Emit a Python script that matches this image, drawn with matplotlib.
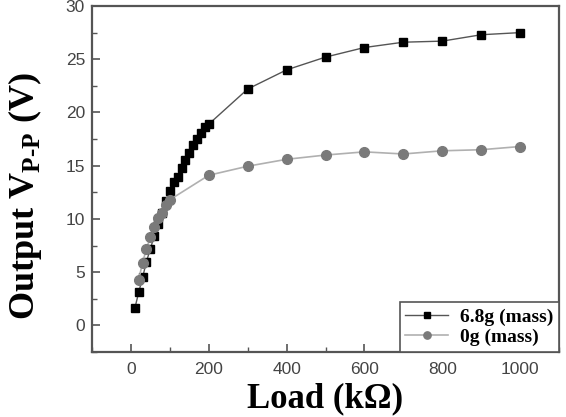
import matplotlib
matplotlib.use("Agg")
import matplotlib.pyplot as plt
from matplotlib.ticker import MultipleLocator

# 6.8g mass series
load_mass = [10, 20, 30, 40, 50, 60, 70, 80, 90, 100,
             110, 120, 130, 140, 150, 160, 170, 180, 190, 200,
             300, 400, 500, 600, 700, 800, 900, 1000]
vpp_mass = [1.6, 3.1, 4.5, 6.0, 7.2, 8.4, 9.5, 10.6, 11.7, 12.6,
            13.5, 13.9, 14.8, 15.5, 16.2, 16.9, 17.5, 18.1, 18.6, 18.9,
            22.2, 24.0, 25.2, 26.1, 26.6, 26.7, 27.3, 27.5]

# 0g mass series
load_nomass = [20, 30, 40, 50, 60, 70, 80, 90, 100,
               200, 300, 400, 500, 600, 700, 800, 900, 1000]
vpp_nomass = [4.3, 5.9, 7.2, 8.3, 9.2, 10.1, 10.6, 11.3, 11.8,
              14.1, 14.95, 15.6, 16.0, 16.3, 16.1, 16.4, 16.5, 16.8]

series_labels = ["6.8g (mass)", "0g (mass)"]

plt.rcParams['mathtext.fontset'] = 'custom'
plt.rcParams['mathtext.rm'] = 'Liberation Serif:bold'
plt.rcParams['mathtext.bf'] = 'Liberation Serif:bold'

fig = plt.figure(figsize=(5.66, 4.17), dpi=100)
ax = fig.add_axes([92 / 566, 1 - 352 / 417, (559 - 92) / 566, (352 - 6) / 417])

ax.plot(load_mass, vpp_mass, color='#555555', lw=1.0, marker='s', ms=6,
        mfc='black', mec='black', label=series_labels[0])
ax.plot(load_nomass, vpp_nomass, color='#b0b0b0', lw=1.2, marker='o', ms=7,
        mfc='#7a7a7a', mec='#7a7a7a', label=series_labels[1])

ax.set_xlim(-100, 1100)
ax.set_ylim(-2.5, 30)
ax.xaxis.set_major_locator(MultipleLocator(200))
ax.xaxis.set_minor_locator(MultipleLocator(100))
ax.yaxis.set_major_locator(MultipleLocator(5))
ax.yaxis.set_minor_locator(MultipleLocator(2.5))

ax.tick_params(which='both', direction='in', top=False, right=False, color='#555555')
ax.tick_params(which='major', length=6, width=1.2)
ax.tick_params(which='minor', length=3.5, width=1.0)
ax.tick_params(axis='x', pad=7)
ax.tick_params(axis='y', pad=5)
for lbl in ax.get_xticklabels() + ax.get_yticklabels():
    lbl.set_fontfamily('Liberation Sans')
    lbl.set_fontsize(12.5)
    lbl.set_color('#444444')

for sp in ax.spines.values():
    sp.set_color('#555555')
    sp.set_linewidth(1.6)

xl = ax.set_xlabel("Load (k\u03a9)", fontsize=25, fontweight='bold',
                   family='Liberation Serif')
xl.set_va('bottom')
ax.xaxis.set_label_coords(0.5, (352 - 415) / 346)
ax.set_ylabel(r"Output V$_{\mathbf{P\text{-}P}}$ (V)", fontsize=26,
              fontweight='bold', family='Liberation Serif')
ax.yaxis.set_label_coords(-0.103, 0.45)

leg = ax.legend(loc='lower right', borderaxespad=0, fancybox=False,
                edgecolor='#555555', framealpha=1,
                prop={'family': 'Liberation Serif', 'weight': 'bold', 'size': 14},
                handlelength=2.2, handletextpad=0.6, markerscale=0.75,
                borderpad=0.3, labelspacing=0.15)
leg.get_frame().set_linewidth(1.2)

fig.savefig("out.png", dpi=100)
